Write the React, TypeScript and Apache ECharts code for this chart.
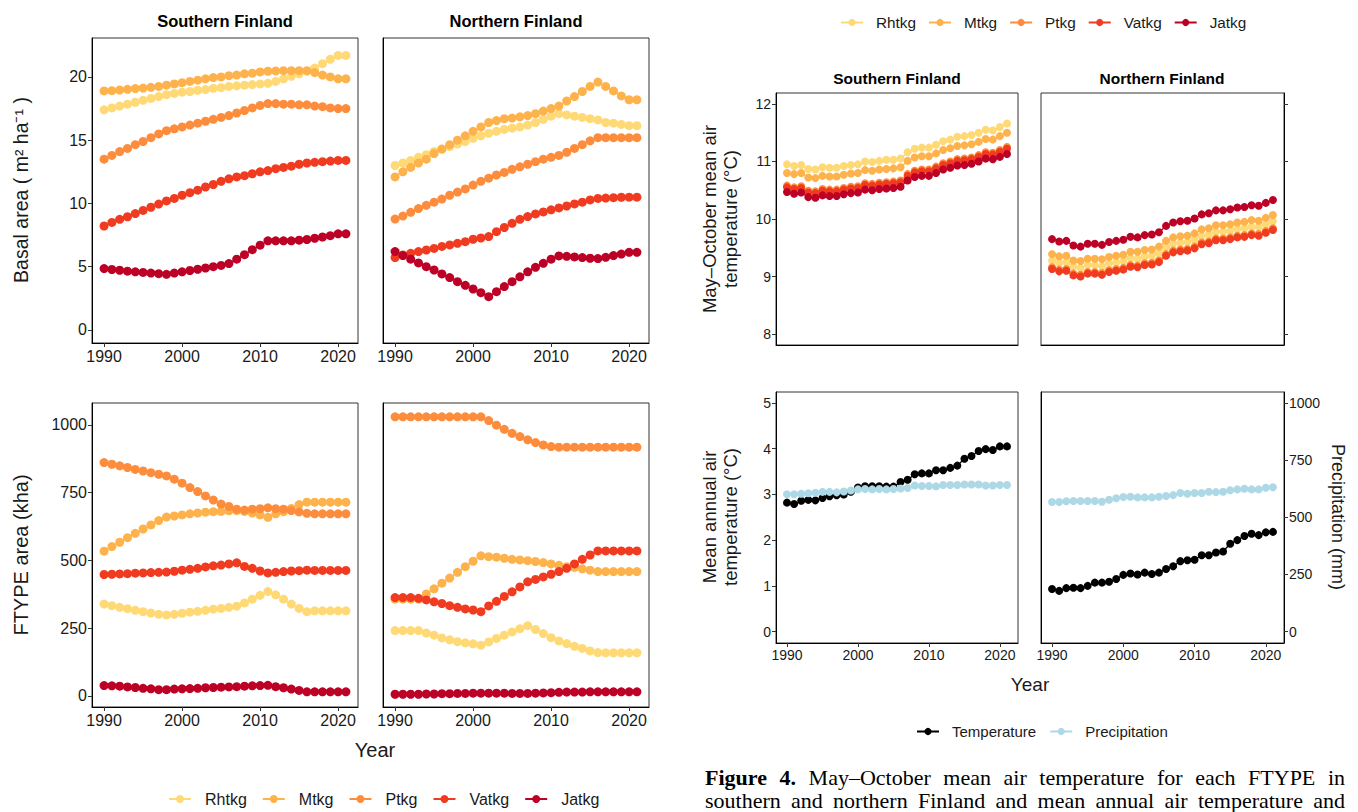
import React, { useEffect, useRef } from "react";
import * as echarts from "echarts";

const years = [1990, 1991, 1992, 1993, 1994, 1995, 1996, 1997, 1998, 1999, 2000, 2001, 2002, 2003, 2004, 2005, 2006, 2007, 2008, 2009, 2010, 2011, 2012, 2013, 2014, 2015, 2016, 2017, 2018, 2019, 2020, 2021];
const ftypeNames = ["Rhtkg", "Mtkg", "Ptkg", "Vatkg", "Jatkg"];
const ftypeColors = ["#FED976", "#FEB24C", "#FD8D3C", "#F03B20", "#BD0026"];
const climateNames = ["Temperature", "Precipitation"];
const climateColors = ["#000000", "#ADD8E6"];
const xTicks = [1990, 2000, 2010, 2020];
const basalTicks = [0, 5, 10, 15, 20];
const areaTicks = [0, 250, 500, 750, 1000];
const mayOctTicks = [8, 9, 10, 11, 12];
const annualTicks = [0, 1, 2, 3, 4, 5];
const precipTicks = [0, 250, 500, 750, 1000];

// Basal area (m2/ha), southern Finland
const baSouthRhtkg = [17.4, 17.55, 17.7, 17.85, 18.0, 18.15, 18.3, 18.45, 18.6, 18.7, 18.8, 18.85, 18.95, 19.0, 19.1, 19.15, 19.25, 19.3, 19.35, 19.4, 19.45, 19.5, 19.65, 19.85, 20.05, 20.25, 20.45, 20.7, 21.05, 21.4, 21.7, 21.7];
const baSouthMtkg = [18.9, 18.92, 18.97, 19.02, 19.08, 19.12, 19.18, 19.25, 19.35, 19.45, 19.55, 19.65, 19.75, 19.85, 19.95, 20.0, 20.1, 20.15, 20.25, 20.3, 20.4, 20.45, 20.48, 20.5, 20.5, 20.5, 20.5, 20.35, 20.15, 20.0, 19.85, 19.85];
const baSouthPtkg = [13.5, 13.8, 14.1, 14.35, 14.65, 14.9, 15.2, 15.5, 15.75, 15.9, 16.05, 16.2, 16.35, 16.5, 16.65, 16.8, 16.95, 17.15, 17.35, 17.55, 17.75, 17.9, 17.9, 17.85, 17.85, 17.8, 17.8, 17.7, 17.65, 17.55, 17.5, 17.5];
const baSouthVatkg = [8.22, 8.5, 8.75, 8.95, 9.2, 9.45, 9.7, 9.95, 10.2, 10.4, 10.65, 10.85, 11.05, 11.3, 11.5, 11.75, 11.95, 12.1, 12.2, 12.35, 12.5, 12.6, 12.75, 12.85, 12.95, 13.1, 13.2, 13.25, 13.3, 13.35, 13.4, 13.4];
const baSouthJatkg = [4.85, 4.78, 4.72, 4.65, 4.6, 4.55, 4.5, 4.45, 4.4, 4.5, 4.6, 4.7, 4.8, 4.9, 5.0, 5.1, 5.25, 5.6, 5.95, 6.35, 6.7, 7.05, 7.05, 7.05, 7.05, 7.1, 7.15, 7.25, 7.35, 7.45, 7.6, 7.6];

// Basal area, northern Finland
const baNorthRhtkg = [13.0, 13.2, 13.4, 13.65, 13.85, 14.1, 14.3, 14.5, 14.7, 14.9, 15.15, 15.35, 15.55, 15.7, 15.85, 15.95, 16.05, 16.2, 16.4, 16.65, 16.9, 17.1, 17.0, 16.9, 16.8, 16.7, 16.6, 16.4, 16.35, 16.25, 16.15, 16.15];
const baNorthMtkg = [12.1, 12.5, 12.85, 13.2, 13.5, 13.95, 14.3, 14.65, 15.0, 15.35, 15.7, 16.05, 16.4, 16.55, 16.7, 16.75, 16.85, 16.95, 17.1, 17.3, 17.5, 17.7, 18.1, 18.45, 18.85, 19.25, 19.6, 19.25, 18.9, 18.5, 18.2, 18.2];
const baNorthPtkg = [8.77, 9.0, 9.3, 9.6, 9.85, 10.1, 10.35, 10.65, 10.9, 11.15, 11.45, 11.75, 12.0, 12.25, 12.45, 12.7, 12.9, 13.1, 13.3, 13.5, 13.65, 13.8, 14.05, 14.35, 14.65, 14.95, 15.2, 15.2, 15.2, 15.2, 15.2, 15.2];
const baNorthVatkg = [5.72, 5.93, 6.06, 6.2, 6.32, 6.45, 6.6, 6.72, 6.85, 6.98, 7.17, 7.27, 7.38, 7.77, 8.1, 8.43, 8.75, 8.96, 9.17, 9.33, 9.5, 9.65, 9.8, 9.96, 10.1, 10.28, 10.4, 10.43, 10.46, 10.49, 10.5, 10.5];
const baNorthJatkg = [6.2, 5.88, 5.6, 5.3, 5.0, 4.74, 4.43, 4.14, 3.82, 3.53, 3.24, 2.95, 2.63, 3.03, 3.43, 3.82, 4.2, 4.6, 4.95, 5.27, 5.6, 5.85, 5.82, 5.77, 5.72, 5.67, 5.64, 5.74, 5.88, 6.0, 6.14, 6.14];

// FTYPE area (kha), southern Finland
const areaSouthRhtkg = [339, 333, 327, 322, 316, 311, 306, 301, 299, 301, 305, 309, 312, 316, 320, 323, 327, 331, 343, 357, 371, 385, 373, 357, 339, 323, 311, 314, 314, 314, 314, 314];
const areaSouthMtkg = [534, 551, 567, 584, 600, 616, 631, 647, 660, 664, 668, 672, 675, 678, 680, 681, 683, 684, 681, 675, 668, 659, 672, 680, 692, 706, 715, 715, 715, 715, 715, 715];
const areaSouthPtkg = [861, 855, 849, 843, 836, 830, 824, 818, 812, 800, 785, 769, 754, 738, 723, 708, 699, 689, 686, 689, 691, 694, 691, 689, 684, 679, 674, 672, 672, 672, 672, 672];
const areaSouthVatkg = [448, 449, 450, 451, 453, 454, 455, 456, 457, 460, 464, 467, 471, 476, 480, 483, 487, 491, 478, 471, 461, 454, 456, 459, 461, 462, 464, 463, 463, 463, 463, 463];
const areaSouthJatkg = [38, 37, 36, 33, 31, 28, 26, 23, 23, 25, 26, 27, 28, 30, 31, 32, 33, 34, 36, 37, 38, 39, 34, 30, 25, 20, 15, 15, 15, 15, 15, 15];

// FTYPE area (kha), northern Finland
const areaNorthRhtkg = [241, 241, 241, 241, 232, 224, 214, 207, 200, 196, 192, 187, 199, 212, 224, 236, 248, 259, 245, 230, 215, 203, 193, 183, 175, 166, 160, 159, 159, 159, 159, 159];
const areaNorthMtkg = [357, 357, 357, 357, 376, 395, 416, 435, 456, 477, 497, 517, 514, 512, 508, 504, 502, 499, 496, 492, 487, 482, 477, 474, 469, 464, 459, 459, 459, 459, 459, 459];
const areaNorthPtkg = [1030, 1030, 1030, 1030, 1030, 1030, 1030, 1030, 1030, 1030, 1030, 1030, 1016, 999, 984, 969, 957, 945, 935, 926, 920, 918, 918, 918, 918, 918, 918, 918, 918, 918, 918, 918];
const areaNorthVatkg = [363, 363, 363, 360, 354, 347, 341, 333, 327, 321, 317, 311, 332, 349, 367, 384, 402, 421, 430, 439, 449, 459, 471, 487, 504, 520, 535, 535, 535, 535, 535, 535];
const areaNorthJatkg = [6, 6, 6, 6, 7, 7, 8, 8, 9, 9, 10, 10, 10, 10, 10, 9, 9, 9, 10, 11, 12, 13, 14, 14, 14, 15, 15, 15, 15, 15, 15, 15];

// May–October mean air temperature (°C), southern Finland
const moSouthRhtkg = [10.95, 10.92, 10.94, 10.87, 10.86, 10.9, 10.89, 10.89, 10.92, 10.94, 10.95, 11.0, 10.99, 11.01, 11.03, 11.03, 11.05, 11.16, 11.22, 11.24, 11.24, 11.29, 11.35, 11.38, 11.43, 11.44, 11.46, 11.5, 11.55, 11.54, 11.6, 11.66];
const moSouthMtkg = [10.8, 10.78, 10.8, 10.72, 10.71, 10.75, 10.74, 10.74, 10.77, 10.79, 10.8, 10.85, 10.84, 10.86, 10.87, 10.88, 10.9, 11.01, 11.07, 11.09, 11.09, 11.14, 11.2, 11.23, 11.27, 11.28, 11.3, 11.34, 11.39, 11.38, 11.44, 11.5];
const moSouthPtkg = [10.58, 10.55, 10.57, 10.49, 10.48, 10.52, 10.51, 10.51, 10.54, 10.56, 10.57, 10.62, 10.61, 10.63, 10.64, 10.65, 10.67, 10.78, 10.84, 10.86, 10.86, 10.91, 10.97, 11.0, 11.04, 11.05, 11.07, 11.11, 11.16, 11.15, 11.2, 11.25];
const moSouthVatkg = [10.55, 10.52, 10.54, 10.46, 10.45, 10.49, 10.48, 10.48, 10.51, 10.53, 10.54, 10.59, 10.58, 10.6, 10.61, 10.62, 10.64, 10.75, 10.81, 10.83, 10.83, 10.88, 10.94, 10.97, 11.01, 11.02, 11.04, 11.08, 11.13, 11.12, 11.17, 11.22];
const moSouthJatkg = [10.47, 10.44, 10.46, 10.38, 10.37, 10.41, 10.4, 10.4, 10.43, 10.45, 10.46, 10.51, 10.5, 10.52, 10.53, 10.54, 10.56, 10.67, 10.73, 10.75, 10.75, 10.8, 10.86, 10.89, 10.93, 10.94, 10.96, 11.0, 11.05, 11.04, 11.08, 11.13];

// May–October mean air temperature (°C), northern Finland
const moNorthRhtkg = [9.28, 9.24, 9.25, 9.17, 9.15, 9.2, 9.2, 9.18, 9.23, 9.25, 9.27, 9.32, 9.31, 9.35, 9.36, 9.4, 9.51, 9.57, 9.59, 9.6, 9.64, 9.71, 9.73, 9.78, 9.78, 9.8, 9.83, 9.84, 9.87, 9.86, 9.91, 9.96];
const moNorthMtkg = [9.39, 9.35, 9.36, 9.28, 9.27, 9.31, 9.31, 9.3, 9.34, 9.36, 9.38, 9.43, 9.43, 9.46, 9.47, 9.52, 9.62, 9.68, 9.7, 9.71, 9.75, 9.82, 9.84, 9.89, 9.89, 9.91, 9.94, 9.95, 9.98, 9.97, 10.02, 10.07];
const moNorthPtkg = [9.16, 9.12, 9.13, 9.05, 9.03, 9.08, 9.08, 9.06, 9.11, 9.13, 9.15, 9.2, 9.19, 9.23, 9.24, 9.28, 9.39, 9.45, 9.47, 9.48, 9.52, 9.59, 9.61, 9.66, 9.66, 9.68, 9.71, 9.72, 9.75, 9.74, 9.79, 9.84];
const moNorthVatkg = [9.13, 9.09, 9.1, 9.02, 9.0, 9.05, 9.05, 9.03, 9.08, 9.1, 9.12, 9.17, 9.16, 9.2, 9.21, 9.25, 9.36, 9.42, 9.44, 9.45, 9.49, 9.56, 9.58, 9.63, 9.63, 9.65, 9.68, 9.69, 9.72, 9.71, 9.76, 9.81];
const moNorthJatkg = [9.65, 9.61, 9.62, 9.54, 9.52, 9.57, 9.57, 9.55, 9.6, 9.62, 9.64, 9.69, 9.68, 9.72, 9.73, 9.77, 9.88, 9.94, 9.96, 9.97, 10.01, 10.08, 10.1, 10.15, 10.15, 10.17, 10.2, 10.21, 10.24, 10.23, 10.28, 10.33];

// Mean annual air temperature (°C) and precipitation (mm)
const tempSouth = [2.82, 2.79, 2.86, 2.88, 2.87, 2.92, 2.96, 2.98, 3.0, 3.06, 3.15, 3.18, 3.18, 3.18, 3.17, 3.17, 3.27, 3.32, 3.44, 3.46, 3.46, 3.53, 3.53, 3.58, 3.63, 3.78, 3.84, 3.95, 3.99, 3.97, 4.05, 4.05];
const precipSouth = [601, 601, 603, 605, 607, 611, 611, 609, 613, 617, 622, 624, 622, 624, 622, 624, 626, 628, 639, 637, 637, 635, 641, 641, 641, 643, 643, 643, 639, 639, 641, 641];
const tempNorth = [0.93, 0.89, 0.95, 0.96, 0.95, 1.0, 1.07, 1.07, 1.09, 1.15, 1.24, 1.27, 1.25, 1.29, 1.26, 1.29, 1.37, 1.43, 1.54, 1.56, 1.57, 1.67, 1.67, 1.73, 1.75, 1.92, 2.0, 2.09, 2.14, 2.11, 2.17, 2.18];
const precipNorth = [567, 567, 570, 571, 571, 571, 571, 568, 577, 583, 589, 590, 587, 587, 587, 590, 593, 597, 606, 603, 606, 606, 612, 610, 612, 618, 622, 625, 622, 622, 629, 631];

const SANS = '"Liberation Sans", Arial, Helvetica, sans-serif';
const SERIF = '"Liberation Serif", "Times New Roman", serif';
const TXT = "#1a1a1a";

export default function App() {
  const ref = useRef<HTMLDivElement>(null);

  useEffect(() => {
    if (!ref.current) return;
    const chart = echarts.init(ref.current, null, { renderer: "svg" });

    const gridBoxes = [
      { left: 92, top: 38, width: 266, height: 305 },
      { left: 383, top: 38, width: 266, height: 305 },
      { left: 92, top: 403, width: 266, height: 304 },
      { left: 383, top: 403, width: 266, height: 304 },
      { left: 776, top: 93, width: 242, height: 252 },
      { left: 1041, top: 93, width: 243, height: 252 },
      { left: 776, top: 392, width: 242, height: 251 },
      { left: 1041, top: 392, width: 243, height: 251 },
    ];
    const grid = gridBoxes.map((g) => ({
      ...g,
      show: true,
      borderColor: "#333",
      borderWidth: 1,
      backgroundColor: "transparent",
      containLabel: false,
      outerBoundsMode: "none",
    }));

    const plain = (v: number) => String(v);

    const xAx = (gi: number, show: boolean, fs: number) => ({
      type: "value",
      gridIndex: gi,
      min: 1988.45,
      max: 2022.55,
      splitLine: { show: false },
      axisLine: { show: true, onZero: false, lineStyle: { color: "#000", width: 1 } },
      axisTick: { show, customValues: xTicks, length: 4, lineStyle: { color: "#333" } },
      axisLabel: { show, customValues: xTicks, formatter: plain, fontSize: fs, color: TXT, margin: 5, fontFamily: SANS },
    });

    const yAx = (gi: number, min: number, max: number, ticks: number[], o: any = {}) => ({
      type: "value",
      gridIndex: gi,
      min,
      max,
      position: o.position || "left",
      splitLine: { show: false },
      axisLine: { show: o.line !== false, onZero: false, lineStyle: { color: "#000", width: 1 } },
      axisTick: { show: !!o.ticks, customValues: ticks, length: 4, lineStyle: { color: "#333" } },
      axisLabel: { show: !!o.labels, customValues: ticks, formatter: plain, fontSize: o.fs || 16, color: TXT, margin: 5, fontFamily: SANS },
    });

    const xAxis = [
      xAx(0, true, 16), xAx(1, true, 16), xAx(2, true, 16), xAx(3, true, 16),
      xAx(4, false, 14), xAx(5, false, 14), xAx(6, true, 14), xAx(7, true, 14),
    ];
    const yAxis = [
      yAx(0, -1.03, 23.08, basalTicks, { ticks: true, labels: true, fs: 16 }),
      yAx(1, -1.03, 23.08, basalTicks, {}),
      yAx(2, -41, 1081, areaTicks, { ticks: true, labels: true, fs: 16 }),
      yAx(3, -41, 1081, areaTicks, {}),
      yAx(4, 7.81, 12.19, mayOctTicks, { ticks: true, labels: true, fs: 14 }),
      yAx(5, 7.81, 12.19, mayOctTicks, { ticks: true, labels: false, position: "right" }),
      yAx(6, -0.25, 5.24, annualTicks, { ticks: true, labels: true, fs: 14 }),
      yAx(7, -0.25, 5.24, annualTicks, {}),
      yAx(6, -50, 1048, precipTicks, { position: "right", line: false }),
      yAx(7, -50, 1048, precipTicks, { ticks: true, labels: true, fs: 14, position: "right" }),
    ];

    const series: any[] = [];
    const line = (name: string, color: string, vals: number[], xi: number, yi: number, size: number) => ({
      type: "line",
      name,
      xAxisIndex: xi,
      yAxisIndex: yi,
      data: years.map((y, i) => [y, vals[i]]),
      symbol: "circle",
      symbolSize: size,
      showSymbol: true,
      itemStyle: { color, borderWidth: 0 },
      lineStyle: { color, width: 1.3 },
      emphasis: { disabled: true },
      silent: true,
    });
    const addGroup = (arrs: number[][], gi: number, size: number) =>
      arrs.forEach((vals, k) => series.push(line(ftypeNames[k], ftypeColors[k], vals, gi, gi, size)));

    addGroup([baSouthRhtkg, baSouthMtkg, baSouthPtkg, baSouthVatkg, baSouthJatkg], 0, 9);
    addGroup([baNorthRhtkg, baNorthMtkg, baNorthPtkg, baNorthVatkg, baNorthJatkg], 1, 9);
    addGroup([areaSouthRhtkg, areaSouthMtkg, areaSouthPtkg, areaSouthVatkg, areaSouthJatkg], 2, 9);
    addGroup([areaNorthRhtkg, areaNorthMtkg, areaNorthPtkg, areaNorthVatkg, areaNorthJatkg], 3, 9);
    addGroup([moSouthRhtkg, moSouthMtkg, moSouthPtkg, moSouthVatkg, moSouthJatkg], 4, 8);
    addGroup([moNorthRhtkg, moNorthMtkg, moNorthPtkg, moNorthVatkg, moNorthJatkg], 5, 8);
    series.push(line(climateNames[0], climateColors[0], tempSouth, 6, 6, 8));
    series.push(line(climateNames[1], climateColors[1], precipSouth, 6, 8, 8));
    series.push(line(climateNames[0], climateColors[0], tempNorth, 7, 7, 8));
    series.push(line(climateNames[1], climateColors[1], precipNorth, 7, 9, 8));

    const txt = (text: string, x: number, y: number, o: any = {}) => ({
      type: "text",
      x,
      y,
      rotation: o.rot || 0,
      silent: true,
      style: {
        text,
        fontSize: o.fs || 16,
        fontWeight: o.fw || "normal",
        fontFamily: o.ff || SANS,
        fill: o.fill || TXT,
        align: o.align || "center",
        verticalAlign: "middle",
        lineHeight: o.lh,
      },
    });

    // justified caption, measured with canvas
    const ctx = document.createElement("canvas").getContext("2d") as CanvasRenderingContext2D;
    const capFs = 22;
    const measure = (t: string, b: boolean) => {
      ctx.font = `${b ? "bold " : ""}${capFs}px "Liberation Serif"`;
      return ctx.measureText(t).width;
    };
    const justify = (words: { t: string; b: boolean }[], x0: number, x1: number, y: number) => {
      const ws = words.map((w) => measure(w.t, w.b));
      const total = ws.reduce((a, b) => a + b, 0);
      const gap = (x1 - x0 - total) / (words.length - 1);
      let x = x0;
      return words.map((w, i) => {
        const el = txt(w.t, x, y, { fs: capFs, ff: SERIF, fw: w.b ? "bold" : "normal", align: "left", fill: "#000" });
        x += ws[i] + gap;
        return el;
      });
    };
    const line1 = [
      { t: "Figure", b: true }, { t: "4.", b: true },
      ...["May–October", "mean", "air", "temperature", "for", "each", "FTYPE", "in"].map((t) => ({ t, b: false })),
    ];
    const line2 = ["southern", "and", "northern", "Finland", "and", "mean", "annual", "air", "temperature", "and"].map((t) => ({ t, b: false }));

    const graphic = [
      txt("Southern Finland", 225, 21, { fs: 16.5, fw: "bold", fill: "#000" }),
      txt("Northern Finland", 516, 21, { fs: 16.5, fw: "bold", fill: "#000" }),
      txt("Southern Finland", 897, 78, { fs: 15.5, fw: "bold", fill: "#000" }),
      txt("Northern Finland", 1162, 78, { fs: 15.5, fw: "bold", fill: "#000" }),
      txt("Basal area ( m² ha⁻¹ )", 21, 190, { fs: 19.5, rot: Math.PI / 2 }),
      txt("FTYPE area (kha)", 21, 555, { fs: 20, rot: Math.PI / 2 }),
      txt("Year", 375, 750, { fs: 20 }),
      txt("May–October mean air\ntemperature (°C)", 720, 219, { fs: 18.5, rot: Math.PI / 2, lh: 21 }),
      txt("Mean annual air\ntemperature (°C)", 720, 517, { fs: 18.5, rot: Math.PI / 2, lh: 21 }),
      txt("Precipitation (mm)", 1338, 517, { fs: 18, rot: -Math.PI / 2 }),
      txt("Year", 1030, 684, { fs: 19 }),
      ...justify(line1, 705, 1345, 777),
      ...justify(line2, 705, 1345, 800),
    ];

    const legendBase = {
      orient: "horizontal",
      selectedMode: false,
      itemWidth: 22,
    };

    chart.setOption({
      animation: false,
      backgroundColor: "#fff",
      grid,
      xAxis,
      yAxis,
      series,
      legend: [
        { ...legendBase, data: ftypeNames, left: 163, top: 786, itemHeight: 10, itemGap: 15, textStyle: { fontSize: 16, color: TXT, fontFamily: SANS, padding: [0, 0, 0, 9] } },
        { ...legendBase, data: ftypeNames, left: 835, top: 10, itemHeight: 9, itemGap: 12, textStyle: { fontSize: 15.3, color: TXT, fontFamily: SANS, padding: [0, 0, 0, 8] } },
        { ...legendBase, data: climateNames, left: 911, top: 719, itemHeight: 9, itemGap: 13, textStyle: { fontSize: 15, color: TXT, fontFamily: SANS, padding: [0, 0, 0, 8] } },
      ],
      graphic,
    });

    return () => chart.dispose();
  }, []);

  return <div ref={ref} style={{ position: "absolute", left: 0, top: 0, width: 1358, height: 812 }} />;
}
